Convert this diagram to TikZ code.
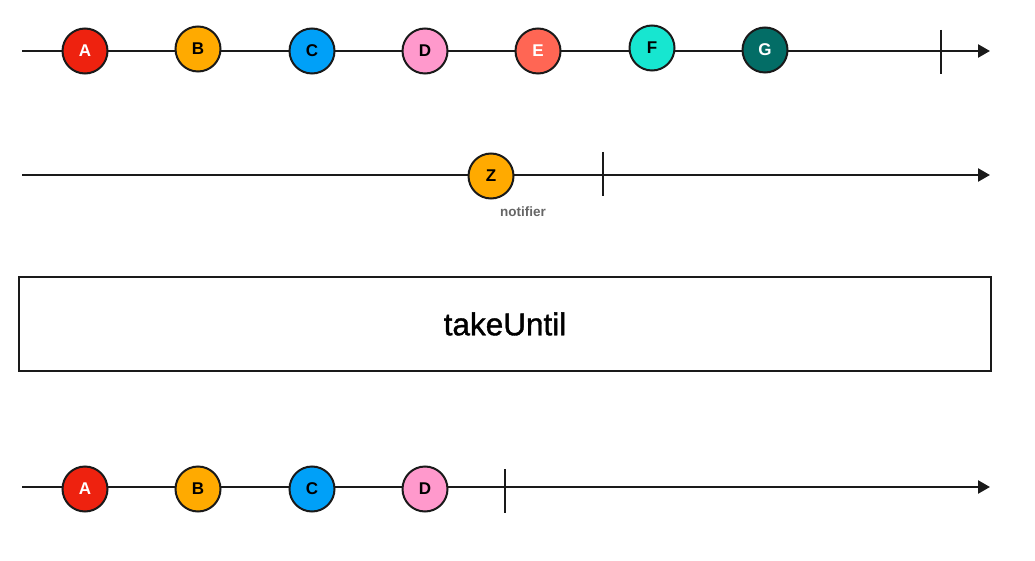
\documentclass[tikz,border=0pt]{standalone}
\usepackage{fontspec}
\setmainfont{Liberation Sans}
\newfontfamily\opfont[FakeBold=1.2]{Liberation Sans}
\usetikzlibrary{arrows.meta}
\definecolor{cA}{HTML}{EE220F}
\definecolor{cB}{HTML}{FFAA00}
\definecolor{cC}{HTML}{00A0F8}
\definecolor{cD}{HTML}{FF99CC}
\definecolor{cE}{HTML}{FF6654}
\definecolor{cF}{HTML}{17E6D0}
\definecolor{cG}{HTML}{036D66}
\definecolor{ink}{HTML}{1A1A1A}
\tikzset{
  marble/.style={circle, draw=ink, line width=2pt, minimum size=45pt, inner sep=0pt,
    font=\fontsize{17}{17}\selectfont\bfseries},
  timeline/.style={draw=ink, line width=2.4pt, -{Triangle[length=12pt,width=13pt]}},
  endtick/.style={draw=ink, line width=2.4pt},
  opbox/.style={draw=ink, line width=1.6pt}
}
\begin{document}
\begin{tikzpicture}[x=1pt,y=-1pt]
\useasboundingbox (0,0) rectangle (1035,561);
% top line
\coordinate (s1) at (22,51);
\coordinate (e1) at (990,51);
\draw[timeline] (s1) -- (e1);
\coordinate (t1a) at (941,30);
\coordinate (t1b) at (941,74);
\draw[endtick] (t1a) -- (t1b);
\node[marble, fill=cA, text=white] (a1) at (85,51) {A};
\node[marble, fill=cB] (b1) at (198,49) {B};
\node[marble, fill=cC] (c1) at (312,51) {C};
\node[marble, fill=cD] (d1) at (425,51) {D};
\node[marble, fill=cE, text=white] (e1n) at (538,51) {E};
\node[marble, fill=cF] (f1) at (652,48) {F};
\node[marble, fill=cG, text=white] (g1) at (765,50) {G};
% notifier line
\coordinate (s2) at (22,175);
\coordinate (e2) at (990,175);
\draw[timeline] (s2) -- (e2);
\coordinate (t2a) at (603,152);
\coordinate (t2b) at (603,196);
\draw[endtick] (t2a) -- (t2b);
\node[marble, fill=cB] (z) at (491,176) {Z};
\node[text=black!60, font=\fontsize{13.5}{14}\selectfont\bfseries] (notif) at (523,212) {notifier};
% operator box
\node[opbox, minimum width=972pt, minimum height=94pt, inner sep=0pt,
  font=\opfont\fontsize{31.5}{31.5}\selectfont] (op) at (505,324) {takeUntil};
% output line
\coordinate (s3) at (22,487);
\coordinate (e3) at (990,487);
\draw[timeline] (s3) -- (e3);
\coordinate (t3a) at (505,469);
\coordinate (t3b) at (505,513);
\draw[endtick] (t3a) -- (t3b);
\node[marble, fill=cA, text=white] (a3) at (85,489) {A};
\node[marble, fill=cB] (b3) at (198,489) {B};
\node[marble, fill=cC] (c3) at (312,489) {C};
\node[marble, fill=cD] (d3) at (425,489) {D};
\end{tikzpicture}
\end{document}
